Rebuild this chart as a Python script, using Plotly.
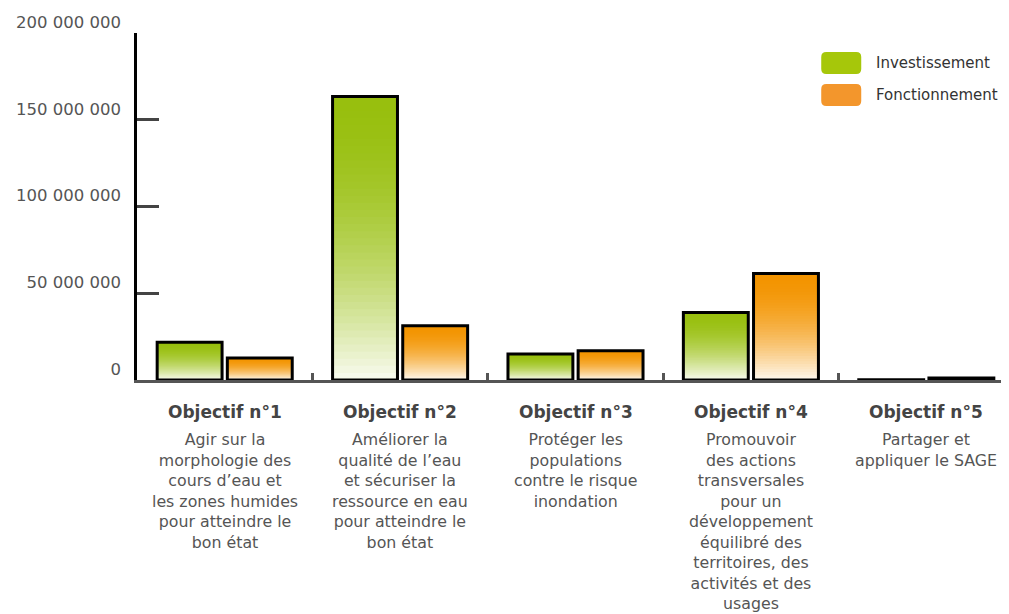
import plotly.graph_objects as go

# data
objectifs = ["Objectif n°1", "Objectif n°2", "Objectif n°3", "Objectif n°4", "Objectif n°5"]
descriptions = [
    "Agir sur la<br>morphologie des<br>cours d’eau et<br>les zones humides<br>pour atteindre le<br>bon état",
    "Améliorer la<br>qualité de l’eau<br>et sécuriser la<br>ressource en eau<br>pour atteindre le<br>bon état",
    "Protéger les<br>populations<br>contre le risque<br>inondation",
    "Promouvoir<br>des actions<br>transversales<br>pour un<br>développement<br>équilibré des<br>territoires, des<br>activités et des<br>usages",
    "Partager et<br>appliquer le SAGE",
]
investissement = [21.7e6, 163.4e6, 15.0e6, 38.9e6, 0.2e6]
fonctionnement = [12.7e6, 31.2e6, 16.8e6, 61.4e6, 1.2e6]
y_ticks = [0, 50e6, 100e6, 150e6, 200e6]

FONT = "DejaVu Sans"
GREEN = (152, 191, 14)
ORANGE = (243, 148, 0)
BAR_W = 0.37
N_STEPS = 40


def blend(rgb, t):
    """Mix a colour with white (t=0 full colour, t=1 white)."""
    return "rgb(%d,%d,%d)" % tuple(round(c + (255 - c) * t) for c in rgb)


series = [
    ("Investissement", investissement, GREEN, -0.385),
    ("Fonctionnement", fonctionnement, ORANGE, 0.015),
]

fig = go.Figure()

for name, vals, rgb, off in series:
    # vertical gradient: stack of shorter and paler bars drawn over each other
    for k in range(N_STEPS):
        frac = 1 - k / N_STEPS
        fig.add_trace(go.Bar(
            x=objectifs, y=[v * frac for v in vals],
            offset=off, width=BAR_W,
            marker=dict(color=blend(rgb, 0.96 * (k / N_STEPS) ** 1.8), line_width=0),
            showlegend=False, hoverinfo="skip",
        ))
    # black outline on top
    fig.add_trace(go.Bar(
        x=objectifs, y=vals, name=name,
        offset=off, width=BAR_W,
        marker=dict(color="rgba(0,0,0,0)", line=dict(color="black", width=3)),
        showlegend=False,
    ))

# category labels under the axis
for obj, desc in zip(objectifs, descriptions):
    fig.add_annotation(x=obj, xref="x", y=-0.092, yref="paper", text="<b>%s</b>" % obj,
                       showarrow=False, yanchor="middle",
                       font=dict(size=17, color="#444", family=FONT))
    fig.add_annotation(x=obj, xref="x", y=-0.138, yref="paper", text=desc,
                       showarrow=False, yanchor="top", align="center",
                       font=dict(size=15.8, color="#555", family=FONT))

# custom legend with rounded swatches
swatch = ("M -15,-11 L 15,-11 Q 20,-11 20,-6 L 20,6 Q 20,11 15,11 L -15,11 "
          "Q -20,11 -20,6 L -20,-6 Q -20,-11 -15,-11 Z")
legend_items = [("Investissement", "#a6c70a", 0.9135), ("Fonctionnement", "#f3962c", 0.821)]
for label, col, yy in legend_items:
    fig.add_shape(type="path", path=swatch, xref="paper", yref="paper",
                  xsizemode="pixel", ysizemode="pixel", xanchor=0.803, yanchor=yy,
                  fillcolor=col, line_width=0)
    fig.add_annotation(x=0.840, y=yy, xref="paper", yref="paper", text=label,
                       showarrow=False, xanchor="left", yanchor="middle",
                       font=dict(size=15, color="#333", family=FONT))

fig.update_layout(
    width=1009, height=614,
    barmode="overlay",
    margin=dict(l=129, r=3, t=25, b=242),
    paper_bgcolor="white", plot_bgcolor="white",
    separators=", ",
    font=dict(family=FONT, color="#555"),
    xaxis=dict(
        range=[-0.5, 4.5], showgrid=False, zeroline=False,
        showline=True, linecolor="#555", linewidth=2.5,
        ticks="inside", ticklen=7, tickwidth=2.5, tickcolor="#555",
        tickson="boundaries", showticklabels=False,
    ),
    yaxis=dict(
        range=[0, 200e6], tickvals=y_ticks, tickformat=",.0f",
        showgrid=False, zeroline=False,
        showline=True, linecolor="black", linewidth=2.5,
        ticks="inside", ticklen=22, tickwidth=2.5, tickcolor="#444",
        ticklabelshift=-11, ticklabelstandoff=10,
        tickfont=dict(size=16.5, color="#555", family=FONT),
    ),
)

fig.write_html("out.html")
